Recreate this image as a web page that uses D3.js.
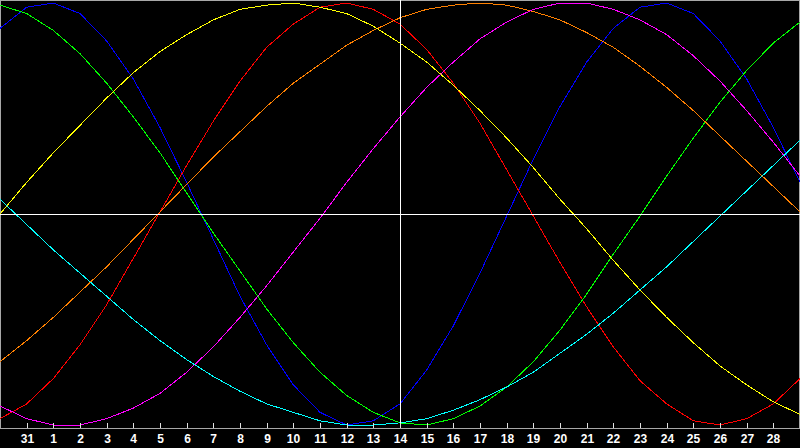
<!DOCTYPE html>
<html>
<head>
<meta charset="utf-8">
<script src="https://cdn.jsdelivr.net/npm/d3@7/dist/d3.min.js"></script>
<style>
html,body{margin:0;padding:0;background:#000;overflow:hidden;}
svg{display:block;}
</style>
</head>
<body>
<svg id="chart" width="800" height="448"></svg>
<script>
// Day index 0..30 (each day sampled once)
const days = d3.range(0, 31);
// Tick labels shown under day indexes 1..29
const tickDays = d3.range(1, 30);
const tickLabels = ["31","1","2","3","4","5","6","7","8","9","10","11","12","13","14","15","16","17","18","19","20","21","22","23","24","25","26","27","28"];

// Series values (percent, -100..100), one value per day index
const blueVals    = [88,98,100,95,82,64,41,15,-12,-39,-62,-81,-94,-100,-98,-90,-74,-53,-28,-1,26,51,72,88,98,100,95,82,64,41,15];
const redVals     = [-97,-90,-78,-62,-43,-21,1,23,44,63,79,90,98,100,97,90,78,62,43,21,-1,-23,-44,-63,-79,-90,-98,-100,-97,-90,-78];
const greenVals   = [99,95,87,76,62,46,29,10,-9,-27,-45,-61,-75,-86,-94,-99,-100,-97,-91,-82,-70,-55,-38,-19,-1,18,36,53,68,81,91];
const orangeVals  = [-70,-60,-49,-37,-25,-12,1,14,27,39,51,62,71,80,87,93,97,99,100,99,96,92,86,79,70,60,49,37,25,13,1];
const yellowVals  = [0,15,29,42,55,67,77,85,92,97,99,100,98,95,89,81,72,61,49,36,22,7,-7,-22,-36,-49,-61,-72,-81,-89,-95];
const magentaVals = [-91,-97,-100,-100,-97,-92,-85,-75,-63,-49,-34,-18,-2,15,31,46,60,72,83,91,97,100,100,97,92,85,75,63,49,34,18];
const cyanVals    = [7,-5,-17,-28,-39,-50,-60,-69,-77,-84,-90,-94,-98,-100,-100,-99,-97,-93,-88,-82,-75,-66,-57,-47,-36,-25,-13,-1,11,23,35];

const seriesNames  = ["blue","red","green","orange","yellow","magenta","cyan"];
const seriesValues = [blueVals, redVals, greenVals, orangeVals, yellowVals, magentaVals, cyanVals];
const seriesColors = ["#0000ff","#ff0000","#00ff00","#ff8000","#ffff00","#ff00ff","#00ffff"];

const W = 800, H = 448, axisY = 428;
const svg = d3.select("#chart");

svg.append("rect").attr("x",0).attr("y",0).attr("width",W).attr("height",H).attr("fill","#000");

const x = d3.scaleLinear().domain([0, 30]).range([0, 800]);
const y = d3.scaleLinear().domain([-100, 100]).range([425, 3]);

// frame
svg.append("path")
  .attr("d", `M0.5,${axisY+0.5}V0.5H799.5V${axisY+0.5}`)
  .attr("fill","none").attr("stroke","#a8a8a8").attr("stroke-width",1)
  .attr("shape-rendering","crispEdges");

// curves
const line = d3.line().x((v,i)=>x(days[i])).y(v=>y(v));
svg.append("g").selectAll("path")
  .data(seriesValues)
  .join("path")
  .attr("d", d=>line(d))
  .attr("fill","none")
  .attr("stroke",(d,i)=>seriesColors[i])
  .attr("stroke-width",1)
  .attr("shape-rendering","crispEdges");

// crosshair
svg.append("line")
  .attr("x1",0).attr("x2",W)
  .attr("y1",Math.round(y(0))+0.5).attr("y2",Math.round(y(0))+0.5)
  .attr("stroke","#ffffff").attr("shape-rendering","crispEdges");
svg.append("line")
  .attr("x1",Math.round(x(15))+0.5).attr("x2",Math.round(x(15))+0.5)
  .attr("y1",0).attr("y2",axisY)
  .attr("stroke","#ffffff").attr("shape-rendering","crispEdges");

// axis
const axis = d3.axisBottom(x)
  .tickValues(tickDays)
  .tickFormat(d=>tickLabels[d-1])
  .tickSizeInner(-5)
  .tickSizeOuter(0)
  .tickPadding(6);

const gAxis = svg.append("g")
  .attr("transform",`translate(0,${axisY})`)
  .call(axis);
gAxis.select(".domain").attr("stroke","#a8a8a8").attr("shape-rendering","crispEdges");
gAxis.selectAll(".tick line").attr("stroke","#e0e0e0").attr("shape-rendering","crispEdges");
gAxis.selectAll(".tick").attr("transform", d=>`translate(${Math.round(x(d))+0.5},0)`);
gAxis.selectAll(".tick text")
  .attr("fill","#ffffff")
  .style("font-family","'Liberation Sans', Arial, sans-serif")
  .style("font-weight","bold")
  .style("font-size","12px");
</script>
</body>
</html>
